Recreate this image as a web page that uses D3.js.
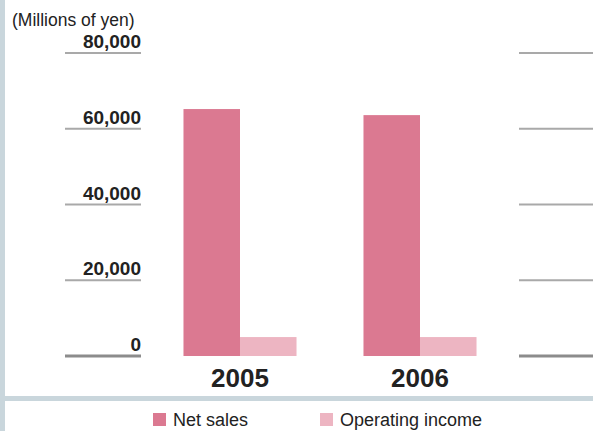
<!DOCTYPE html>
<html>
<head>
<meta charset="utf-8">
<script src="https://cdn.jsdelivr.net/npm/d3@7"></script>
<style>
  body { margin: 0; background: #fff; }
  text { font-family: "Liberation Sans", Arial, sans-serif; }
</style>
</head>
<body>
<div id="chart"></div>
<script>
/* Net sales / operating income bar chart */

// Data
const years = ["2005", "2006"];
const netSales = [65200, 63600];
const operatingIncome = [5000, 5000];
const tickValues = [0, 20000, 40000, 60000, 80000];
const seriesNames = ["Net sales", "Operating income"];

const width = 593,
      height = 431;

const colors = ["#db7991", "#edb5c2"];

let svg = d3.select("#chart")
    .append("svg")
    .attr("width", width)
    .attr("height", height);

// frame bands (left edge + bottom separator)
svg.append("rect")
    .attr("x", 0).attr("y", 0)
    .attr("width", 5).attr("height", height)
    .attr("fill", "#c9d6dc");
svg.append("rect")
    .attr("x", 5).attr("y", 396)
    .attr("width", width - 5).attr("height", 5)
    .attr("fill", "#c9d6dc");

// scales
let x = d3.scaleBand()
    .domain(years)
    .range([150, 510])
    .paddingInner(0.372)
    .paddingOuter(0.186);

let xs = d3.scaleBand()
    .domain(seriesNames)
    .range([0, x.bandwidth()]);

let y = d3.scaleLinear()
    .domain([0, 80000])
    .range([356, 53]);

// gridline stubs on both sides
let grid = svg.append("g");
[[65, 141], [519, 593]].forEach(([x1, x2]) => {
    grid.selectAll(null)
        .data(tickValues)
        .join("line")
        .attr("x1", x1)
        .attr("x2", x2)
        .attr("y1", d => y(d))
        .attr("y2", d => y(d))
        .attr("stroke", d => d === 0 ? "#8c8c8c" : "#a9a9a9")
        .attr("stroke-width", d => d === 0 ? 3 : 2);
});

// tick labels
svg.append("g")
    .selectAll("text")
    .data(tickValues)
    .join("text")
    .attr("x", 141)
    .attr("y", d => y(d) - 5)
    .attr("text-anchor", "end")
    .attr("font-size", 19)
    .attr("font-weight", "bold")
    .attr("fill", "#222")
    .text(d => d3.format(",")(d));

svg.append("text")
    .attr("x", 12)
    .attr("y", 26)
    .attr("font-size", 17.5)
    .attr("fill", "#222")
    .text("(Millions of yen)");

// bars
let rows = years.map((yr, i) => ({ year: yr, values: [netSales[i], operatingIncome[i]] }));

let group = svg.selectAll(".bar")
    .data(rows)
    .join("g")
    .attr("class", "bar")
    .attr("transform", d => `translate(${x(d.year)},0)`);

group.selectAll("rect")
    .data(d => d.values.map((v, j) => ({ name: seriesNames[j], v: v, j: j })))
    .join("rect")
    .attr("x", d => xs(d.name))
    .attr("width", xs.bandwidth())
    .attr("y", d => y(d.v))
    .attr("height", d => y(0) - y(d.v))
    .attr("fill", d => colors[d.j]);

// year labels
svg.append("g")
    .selectAll("text")
    .data(years)
    .join("text")
    .attr("x", d => x(d) + x.bandwidth() / 2)
    .attr("y", 387)
    .attr("text-anchor", "middle")
    .attr("font-size", 26)
    .attr("font-weight", "bold")
    .attr("fill", "#222")
    .text(d => d);

// legend
let legendX = [153, 320];
let legend = svg.append("g")
    .selectAll("g")
    .data(seriesNames)
    .join("g")
    .attr("transform", (d, i) => `translate(${legendX[i]},413)`);

legend.append("rect")
    .attr("width", 13)
    .attr("height", 13)
    .attr("fill", (d, i) => colors[i]);

legend.append("text")
    .attr("x", 20)
    .attr("y", 13)
    .attr("font-size", 18)
    .attr("fill", "#222")
    .text(d => d);
</script>
</body>
</html>
